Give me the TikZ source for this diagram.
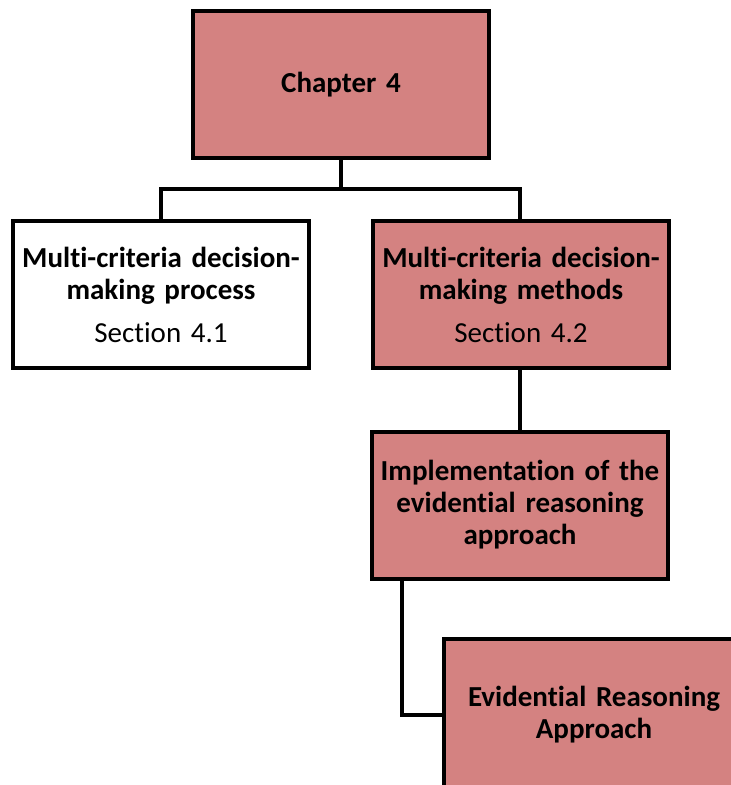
\documentclass[tikz,border=0pt]{standalone}
\usepackage{fontspec}
\setmainfont{Carlito}[Ligatures=NoCommon]
\definecolor{boxpink}{RGB}{212,130,129}
\begin{document}
\begin{tikzpicture}[x=1pt,y=-1pt,
  box/.style={draw=black,line width=4pt,minimum width=296pt,minimum height=147pt,
    inner sep=2pt,align=center,text width=290pt,font=\fontsize{29}{32}\selectfont},
  pinkbox/.style={box,fill=boxpink},
  whitebox/.style={box,fill=white},
  conn/.style={draw=black,line width=4pt}]
\useasboundingbox (0,0) rectangle (731,785);
\node[pinkbox] (chap) at (341,84.5) {\textbf{Chapter 4}};
\node[whitebox] (proc) at (161,294.5) {\textbf{Multi-criteria decision-}\\\textbf{making process}\\[11pt]Section 4.1};
\node[pinkbox] (meth) at (521,294.5) {\textbf{Multi-criteria decision-}\\\textbf{making methods}\\[11pt]Section 4.2};
\node[pinkbox] (impl) at (520,505) {\textbf{Implementation of the}\\\textbf{evidential reasoning}\\\textbf{approach}};
\node[pinkbox,draw=none,minimum height=148pt] (era) at (594,715) {\textbf{Evidential Reasoning}\\\textbf{Approach}};
\draw[conn] (era.south west) |- (era.north east);
\coordinate (bus) at (341,189);
\draw[conn] (chap.south) -- (bus) -| (proc.north);
\draw[conn] (bus) -| ([xshift=-1pt]meth.north);
\draw[conn] (impl.north) -- (impl.north |- meth.south);
\draw[conn] ([xshift=32pt]impl.south west) |- (era.west);
\end{tikzpicture}
\end{document}
